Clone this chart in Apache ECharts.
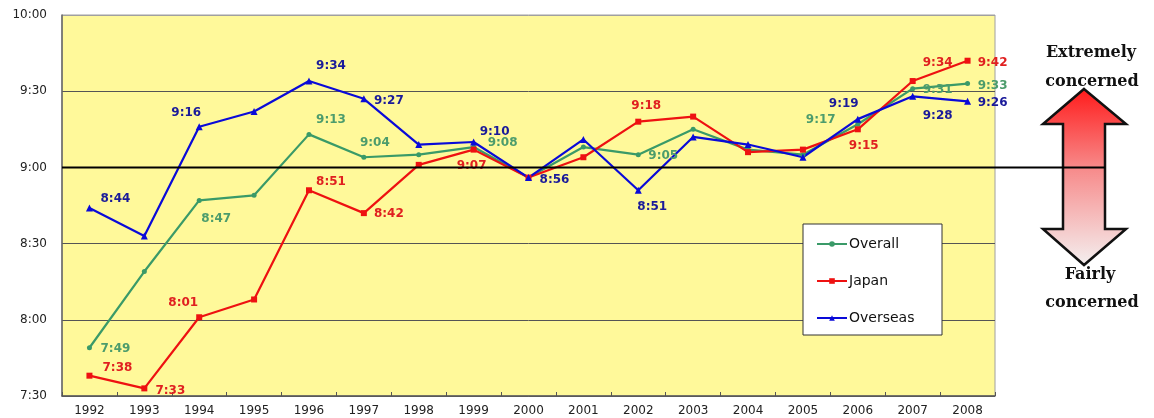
<!DOCTYPE html>
<html>
<head>
<meta charset="utf-8">
<script src="https://cdn.jsdelivr.net/npm/echarts@6/dist/echarts.min.js"></script>
<style>html,body{margin:0;padding:0;background:#fff;}#c{width:1154px;height:418px;}</style>
</head>
<body>
<div id="c"></div>
<script>
const years = ['1992','1993','1994','1995','1996','1997','1998','1999','2000','2001','2002','2003','2004','2005','2006','2007','2008'];
const overall  = ['7:49','8:19','8:47','8:49','9:13','9:04','9:05','9:08','8:56','9:08','9:05','9:15','9:07','9:05','9:17','9:31','9:33'];
const japan    = ['7:38','7:33','8:01','8:08','8:51','8:42','9:01','9:07','8:56','9:04','9:18','9:20','9:06','9:07','9:15','9:34','9:42'];
const overseas = ['8:44','8:33','9:16','9:22','9:34','9:27','9:09','9:10','8:56','9:11','8:51','9:12','9:09','9:04','9:19','9:28','9:26'];
const yTicks = ['7:30','8:00','8:30','9:00','9:30','10:00'];
const seriesNames = ['Overall','Japan','Overseas'];

// label layout (pixel offsets of labelled points)
const labelOffsets = {
  Overall:  {0:[26,1],2:[17,18],4:[22,-15],5:[11,-14],7:[29,-4],10:[25,1],14:[-37,-4],15:[25,1],16:[25,2]},
  Japan:    {0:[28,-8],1:[26,2],2:[-16,-14],4:[22,-8],5:[25,1],7:[-2,16],10:[8,-16],14:[6,17],15:[25,-18],16:[25,2]},
  Overseas: {0:[26,-9],2:[-13,-14],4:[22,-15],5:[25,2],7:[21,-10],8:[26,2],10:[14,17],14:[-14,-15],15:[25,20],16:[25,2]}
};

function toMin(s){ const p = s.split(':'); return (+p[0])*60 + (+p[1]); }
function fmt(m){ const h = Math.floor(m/60), mm = m%60; return h + ':' + (mm<10?'0':'') + mm; }

const lineColors = {Overall:'#3a9a68', Japan:'#ee1111', Overseas:'#0a0ad8'};
const labelColors = {Overall:'#4c9c6c', Japan:'#e02020', Overseas:'#1a1a9a'};
const symbols = {Overall:'circle', Japan:'rect', Overseas:'triangle'};
const sizes = {Overall:5, Japan:6, Overseas:7};
const raw = {Overall: overall, Japan: japan, Overseas: overseas};

const series = seriesNames.map(function(name){
  return {
    name: name,
    type: 'line',
    symbol: symbols[name],
    symbolSize: sizes[name],
    lineStyle: {width: 2.2, color: lineColors[name]},
    itemStyle: {color: lineColors[name]},
    emphasis: {disabled: true},
    data: raw[name].map(function(s, i){
      const off = labelOffsets[name][i];
      const item = {value: toMin(s)};
      if (off) {
        item.label = {
          show: true, position: 'inside', offset: off,
          formatter: s, color: labelColors[name],
          fontFamily: 'DejaVu Sans', fontWeight: 'bold', fontSize: 12
        };
      }
      return item;
    })
  };
});

const chart = echarts.init(document.getElementById('c'), null, {renderer: 'canvas'});
const yMin = toMin(yTicks[0]), yMax = toMin(yTicks[yTicks.length-1]);
chart.setOption({
  animation: false,
  backgroundColor: '#ffffff',
  grid: {left: 62, right: 159, top: 15, bottom: 22, show: true, backgroundColor: '#fff99a', borderColor: '#a0a0a0', borderWidth: 1},
  xAxis: {
    type: 'category', data: years, boundaryGap: true,
    axisLine: {lineStyle: {color: '#555', width: 1.5}},
    axisTick: {show: true, inside: true, length: 4, lineStyle: {color: '#555'}},
    axisLabel: {color: '#222', fontFamily: 'DejaVu Sans', fontSize: 12, margin: 9}
  },
  yAxis: {
    type: 'value', min: yMin, max: yMax, interval: 30,
    axisLine: {show: true, lineStyle: {color: '#666', width: 1.5}},
    axisTick: {show: false},
    axisLabel: {color: '#222', fontFamily: 'DejaVu Sans', fontSize: 12, margin: 15, formatter: function(v){ return fmt(v); }},
    splitLine: {show: true, lineStyle: {color: ['#666','#555','#555','#555','#555','#a0a0a0'], width: 1}}
  },
  legend: {
    orient: 'vertical', left: 811, top: 232, itemGap: 23, itemWidth: 30, itemHeight: 7,
    data: seriesNames, z: 10,
    textStyle: {color: '#111', fontFamily: 'DejaVu Sans', fontSize: 14, padding: [0,0,0,-3]},
    backgroundColor: 'transparent'
  },
  series: series
});

const y9 = chart.convertToPixel({yAxisIndex: 0}, toMin('9:00'));
chart.setOption({
  graphic: [
    {type: 'rect', z: 5, shape: {x: 803, y: 224, width: 139, height: 111}, style: {fill: '#ffffff', stroke: '#333', lineWidth: 1}},
    {type: 'polygon', z: 5, shape: {points: [[1084,89],[1126,124],[1105,124],[1105,229],[1126,229],[1084,265],[1043,229],[1063,229],[1063,124],[1043,124]]},
      style: {fill: new echarts.graphic.LinearGradient(0,0,0,1,[{offset:0,color:'#ff1a1a'},{offset:0.45,color:'#f78a8a'},{offset:1,color:'#f4f0f0'}]), stroke: '#111', lineWidth: 2.5}},
    {type: 'line', z: 6, shape: {x1: 62, y1: y9, x2: 1105, y2: y9}, style: {stroke: '#000', lineWidth: 2}},
    {type: 'text', z: 6, x: 1091, y: 53, style: {text: 'Extremely', fill: '#111', font: 'bold 16px "DejaVu Serif"', align: 'center', verticalAlign: 'middle'}},
    {type: 'text', z: 6, x: 1092, y: 82, style: {text: 'concerned', fill: '#111', font: 'bold 16px "DejaVu Serif"', align: 'center', verticalAlign: 'middle'}},
    {type: 'text', z: 6, x: 1090, y: 275, style: {text: 'Fairly', fill: '#111', font: 'bold 16px "DejaVu Serif"', align: 'center', verticalAlign: 'middle'}},
    {type: 'text', z: 6, x: 1092, y: 303, style: {text: 'concerned', fill: '#111', font: 'bold 16px "DejaVu Serif"', align: 'center', verticalAlign: 'middle'}}
  ]
});
</script>
</body>
</html>
